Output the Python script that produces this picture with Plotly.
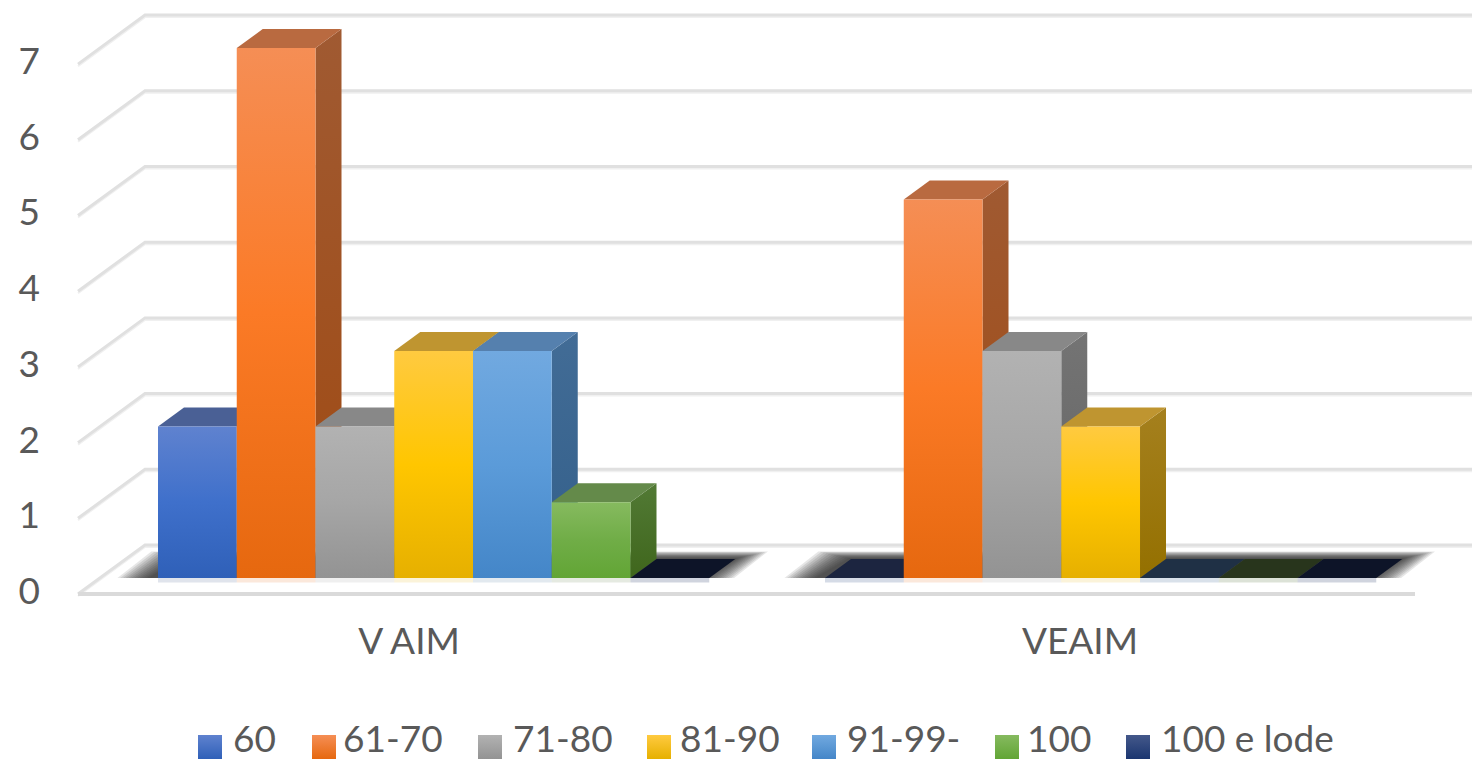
import plotly.graph_objects as go

groups = ["V AIM", "VEAIM"]
series = ["60", "61-70", "71-80", "81-90", "91-99-", "100", "100 e lode"]
v_aim = [2, 7, 2, 3, 3, 1, 0]
veaim = [0, 5, 3, 2, 0, 0, 0]
y_ticks = [0, 1, 2, 3, 4, 5, 6, 7]

front_colors = [
    ["#2F60B8", "#3F70CB", "#5F82CF"],
    ["#E6680F", "#FB7A26", "#F58E55"],
    ["#939393", "#A6A6A6", "#B2B2B2"],
    ["#E6B000", "#FFC600", "#FFCA40"],
    ["#4486C8", "#5B9BD9", "#71A9E0"],
    ["#62A535", "#70AD47", "#86BA5F"],
    ["#1B3670", "#264478", "#44588A"],
]
top_colors = ["#4A6095", "#B96A40", "#888888", "#BF9530", "#5580AE", "#648A4A", "#0D1428"]
side_colors = [
    ["#2A4580", "#3F5C95"],
    ["#A04A12", "#A05A32"],
    ["#626262", "#747474"],
    ["#947000", "#A5801E"],
    ["#335F8A", "#426C96"],
    ["#3F661C", "#527A35"],
    ["#0D1428", "#0D1428"],
]
zero_top_colors = ["#1C2540", "#B96A40", "#888888", "#BF9530", "#1F3045", "#28351C", "#0D1428"]
strip_colors = ["47,74,128", "230,104,15", "147,147,147", "230,176,0", "63,106,149", "79,111,56", "18,42,92"]
legend_swatch_px = [198, 312, 478, 647, 812, 995, 1126]
legend_text_px = [233, 343, 513, 680, 847, 1027, 1161]
group_label_px = [409, 1080]

BAR_PX, UNIT_PX, X0_PX, Y0_PX = 78.75, 75.7, 158, 578
GROUP_STEP = 8.47
DX, DY = 26 / BAR_PX, 19 / UNIT_PX
FONT = "Lato"
TEXT = "#595959"
FONT_SIZE = 37


def X(p):
    return (p - X0_PX) / BAR_PX


def Y(p):
    return (Y0_PX - p) / UNIT_PX


fig = go.Figure()


def poly(xs, ys, grad=None, fill=None, name=None):
    kw = dict(x=xs + xs[:1], y=ys + ys[:1], mode="lines", line=dict(width=0), fill="toself",
              hoverinfo="skip", showlegend=False, cliponaxis=False)
    if name:
        kw["name"] = name
    if grad:
        n = len(grad) - 1
        kw["fillgradient"] = dict(type="vertical", colorscale=[[i / n, c] for i, c in enumerate(grad)])
    else:
        kw["fillcolor"] = fill
    fig.add_trace(go.Scatter(**kw))


# gridlines: back wall, left wall and floor edge
gx, gy = [], []
for t in y_ticks:
    gx += [X(78), X(145), X(1472), None]
    gy += [Y(594 - t * UNIT_PX), Y(545 - t * UNIT_PX), Y(545 - t * UNIT_PX), None]
fig.add_trace(go.Scatter(x=gx, y=[None if v is None else v - 2 / UNIT_PX for v in gy], mode="lines",
                         line=dict(color="#F0F0F0", width=2), hoverinfo="skip", showlegend=False))
fig.add_trace(go.Scatter(x=gx, y=gy, mode="lines", line=dict(color="#E0E0E0", width=3),
                         hoverinfo="skip", showlegend=False))
fig.add_trace(go.Scatter(x=[X(78), X(1415)], y=[Y(594), Y(594)], mode="lines",
                         line=dict(color="#DADADA", width=4), hoverinfo="skip", showlegend=False))

# soft shadow on the floor beneath each group
for g in range(len(groups)):
    left = g * GROUP_STEP
    right = left + len(series)
    for k in range(12):
        e = 0.03 + k * 0.035
        t = DY + (1 + k * 0.6) / UNIT_PX
        poly([left - e - 0.1, right + e - 0.1, right + e + DX, left - e + DX],
             [0.0, 0.0, t, t], fill="rgba(30,30,30,0.11)")

# bars
for g, values in enumerate([v_aim, veaim]):
    for i, v in enumerate(values):
        x0 = g * GROUP_STEP + i
        x1 = x0 + 1
        poly([x0, x1, x1, x0], [0, 0, -0.06, -0.06], fill=f"rgba({strip_colors[i]},{0.15 if v else 0.2})")
        if v > 0:
            poly([x1, x1 + DX, x1 + DX, x1], [0, DY, v + DY, v], grad=side_colors[i])
            poly([x0, x1, x1 + DX, x0 + DX], [v, v, v + DY, v + DY], fill=top_colors[i])
            poly([x0, x1, x1, x0], [0, 0, v, v], grad=front_colors[i], name=f"{groups[g]} {series[i]}")
        else:
            poly([x0, x1, x1 + DX, x0 + DX], [0, 0, DY, DY], fill=zero_top_colors[i], name=f"{groups[g]} {series[i]}")

# legend
for i, s in enumerate(series):
    fig.add_trace(go.Scatter(
        x=[X(legend_swatch_px[i] + 12)], y=[Y(747)], mode="markers", hoverinfo="skip", showlegend=False,
        marker=dict(symbol="square", size=24, color=front_colors[i][2], line=dict(width=0),
                    gradient=dict(type="vertical", color=front_colors[i][0]))))
    fig.add_annotation(x=X(legend_text_px[i]), y=Y(737), text=s, showarrow=False, xanchor="left", yanchor="middle",
                       font=dict(family=FONT, size=FONT_SIZE, color=TEXT), xref="x", yref="y", xshift=-2)

fig.update_layout(
    width=1472, height=760, autosize=False,
    margin=dict(l=0, r=0, t=0, b=0, pad=0),
    paper_bgcolor="white", plot_bgcolor="white", showlegend=False,
    font=dict(family=FONT, size=FONT_SIZE, color=TEXT),
    xaxis=dict(range=[X(0), X(1472)], showgrid=False, zeroline=False, showline=False, ticks="",
               anchor="free", position=150 / 760,
               tickmode="array", tickvals=[X(p) for p in group_label_px], ticktext=groups,
               ticklabelstandoff=6, tickfont=dict(family=FONT, size=FONT_SIZE, color=TEXT)),
    yaxis=dict(range=[Y(760), Y(0)], showgrid=False, zeroline=False, showline=False, ticks="",
               anchor="free", position=50 / 1472,
               tickmode="array", tickvals=y_ticks, ticktext=[str(t) for t in y_ticks],
               ticklabelstandoff=10, ticklabelshift=13, tickfont=dict(family=FONT, size=FONT_SIZE, color=TEXT)),
)

fig.write_html("out.html", post_script="document.body.style.margin='0';", config={"displayModeBar": False})
